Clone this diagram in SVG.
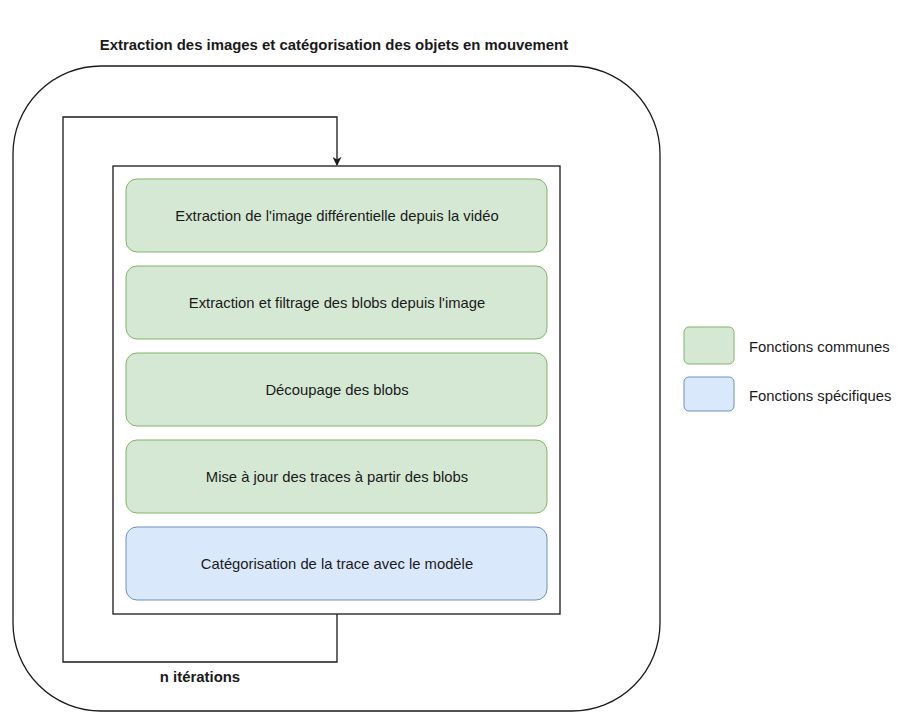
<svg xmlns="http://www.w3.org/2000/svg" width="903" height="716" viewBox="0 0 903 716">
<defs>
<style>
.t{font-family:"Liberation Sans",Arial,sans-serif;font-size:14.8px;fill:#1a1a1a;text-anchor:middle;dominant-baseline:central}
.b{font-weight:bold;font-size:14.9px}
.l{text-anchor:start}
.g{fill:#d5e8d4;stroke:#82b366;stroke-width:1}
.u{fill:#dae8fc;stroke:#6c8ebf;stroke-width:1}
.k{fill:none;stroke:#1a1a1a;stroke-width:1.3}
</style>
<marker id="ah" viewBox="0 0 10 10" refX="9" refY="5" markerWidth="9" markerHeight="9" orient="auto" markerUnits="userSpaceOnUse"><path d="M0,0 L10,5 L0,10 L3,5 Z" fill="#1a1a1a"/></marker>
</defs>
<rect width="903" height="716" fill="#ffffff"/>
<g id="outer">
<rect class="k" x="13" y="66" width="647" height="645" rx="88" ry="88"/>
<text class="t b" x="334" y="45">Extraction des images et catégorisation des objets en mouvement</text>
</g>
<g id="container">
<rect class="k" x="113" y="166" width="447" height="448" fill="#ffffff"/>
</g>
<g id="connectors">
<path class="k" d="M337,614 L337,662 L63,662 L63,117 L337,117 L337,165" marker-end="url(#ah)"/>
<text class="t b" x="200" y="677">n itérations</text>
</g>
<g id="n1"><rect class="g" x="126" y="179" width="421" height="73" rx="11"/><text class="t" x="337" y="216">Extraction de l'image différentielle depuis la vidéo</text></g>
<g id="n2"><rect class="g" x="126" y="266" width="421" height="73" rx="11"/><text class="t" x="337" y="303">Extraction et filtrage des blobs depuis l'image</text></g>
<g id="n3"><rect class="g" x="126" y="353" width="421" height="73" rx="11"/><text class="t" x="337" y="390">Découpage des blobs</text></g>
<g id="n4"><rect class="g" x="126" y="440" width="421" height="73" rx="11"/><text class="t" x="337" y="477">Mise à jour des traces à partir des blobs</text></g>
<g id="n5"><rect class="u" x="126" y="527" width="421" height="73" rx="11"/><text class="t" x="337" y="564">Catégorisation de la trace avec le modèle</text></g>
<g id="legend-common"><rect class="g" x="684" y="327" width="50" height="37" rx="5"/><text class="t l" x="749" y="347">Fonctions communes</text></g>
<g id="legend-specific"><rect class="u" x="684" y="377" width="50" height="34" rx="5"/><text class="t l" x="749" y="396">Fonctions spécifiques</text></g>
</svg>
